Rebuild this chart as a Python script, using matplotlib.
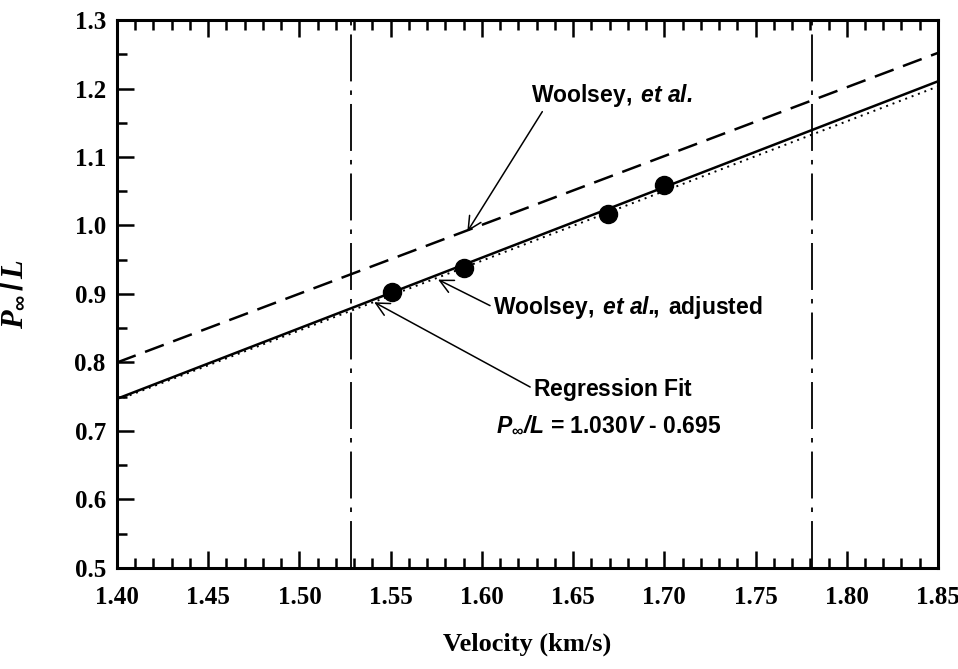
import numpy as np
import matplotlib
matplotlib.use('Agg')
import matplotlib.pyplot as plt
from matplotlib.ticker import MultipleLocator, FormatStrFormatter

# fontes: Times-like para eixos, Helvetica-like para anotacoes
plt.rcParams['font.family'] = 'Liberation Serif'
plt.rcParams['mathtext.fontset'] = 'custom'
plt.rcParams['mathtext.it'] = 'Liberation Serif:bold:italic'
plt.rcParams['mathtext.rm'] = 'Liberation Sans:bold'
plt.rcParams['mathtext.sf'] = 'Liberation Sans:bold:italic'

# dados
test_velocity = [1.551, 1.590, 1.669, 1.700]
test_pl = [0.903, 0.938, 1.017, 1.059]

fit_slope = 1.030
fit_intercept = -0.695

woolsey_v = [1.40, 1.85]
woolsey_pl = [0.800, 1.252]
woolsey_adj_v = [1.40, 1.85]
woolsey_adj_pl = [0.745, 1.203]

range_limits = [1.528, 1.781]

fig = plt.figure(figsize=(9.58, 6.69), dpi=100)
ax = fig.add_axes([0.1221, 0.1510, 0.8570, 0.8191])

v = np.array([1.40, 1.85])
ax.plot(v, fit_slope * v + fit_intercept, color='black', lw=1.8, solid_capstyle='butt')
ax.plot(woolsey_adj_v, woolsey_adj_pl, color='black', lw=1.4, ls=(0, (1, 2.5)))
ax.plot(woolsey_v, woolsey_pl, color='black', lw=1.8, dashes=(8, 4))
for xv in range_limits:
    ax.axvline(xv, color='black', lw=1.3, dashes=(26, 5, 2.5, 5))
ax.plot(test_velocity, test_pl, 'o', color='black', ms=13)

# anotacoes
arrow = dict(arrowstyle='->', color='black', lw=1.1, mutation_scale=24, shrinkA=0, shrinkB=0)
ann_kw = dict(fontsize=16.5, va='center', ha='left')
ax.annotate(r'$\mathrm{Woolsey,\ }\mathsf{et\ al.}$', xy=(1.592, 0.991), xytext=(1.627, 1.190),
            arrowprops=dict(arrow, relpos=(0.08, 0.0)), **ann_kw)
ax.annotate(r'$\mathrm{Woolsey,\ }\mathsf{et\ al.}\!\!\mathrm{,\ adjusted}$', xy=(1.576, 0.921),
            xytext=(1.606, 0.881), arrowprops=dict(arrow, relpos=(0.0, 0.5)), **ann_kw)
ax.annotate(r'$\mathrm{Regression\ Fit}$', xy=(1.541, 0.888), xytext=(1.628, 0.760),
            arrowprops=dict(arrow, relpos=(0.0, 0.55)), **ann_kw)
ax.text(1.608, 0.709, r'$\mathsf{P}_{\infty}\mathsf{/L}$ = 1.030$\mathsf{V}$ - 0.695',
        family='Liberation Sans', fontweight='bold', **ann_kw)

ax.set_xlim(1.40, 1.85)
ax.set_ylim(0.5, 1.3)
ax.xaxis.set_major_locator(MultipleLocator(0.05))
ax.xaxis.set_minor_locator(MultipleLocator(0.01))
ax.yaxis.set_major_locator(MultipleLocator(0.1))
ax.yaxis.set_minor_locator(MultipleLocator(0.05))
ax.xaxis.set_major_formatter(FormatStrFormatter('%.2f'))
ax.yaxis.set_major_formatter(FormatStrFormatter('%.1f'))
ax.tick_params(which='both', direction='in', top=True, right=False, width=1.8)
ax.tick_params(which='major', length=12, labelsize=18)
ax.tick_params(axis='x', which='major', pad=13)
ax.tick_params(axis='y', which='major', pad=8)
ax.tick_params(which='minor', length=7)
for lab in ax.get_xticklabels() + ax.get_yticklabels():
    lab.set_fontweight('bold')
for s in ax.spines.values():
    s.set_linewidth(2.2)

ax.set_xlabel('Velocity (km/s)', fontsize=19, fontweight='bold')
ax.set_ylabel(r'$P_{\infty}\,/\,L$', fontsize=22)
ax.xaxis.set_label_coords(0.5, -0.118)
ax.yaxis.set_label_coords(-0.108, 0.5)

fig.savefig('out.png', dpi=100)
